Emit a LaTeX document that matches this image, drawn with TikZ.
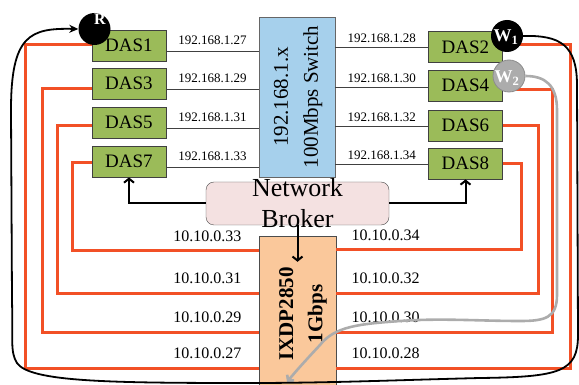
\documentclass[tikz,border=0pt]{standalone}
\usepackage{fontspec}
\setmainfont{Liberation Serif}
\usetikzlibrary{arrows.meta,calc}
\definecolor{dasgreen}{RGB}{155,187,89}
\definecolor{swblue}{RGB}{166,208,236}
\definecolor{brkpink}{RGB}{244,225,225}
\definecolor{ixpeach}{RGB}{250,200,155}
\definecolor{orng}{RGB}{242,80,38}
\definecolor{wgray}{RGB}{172,172,172}
\begin{document}
\begin{tikzpicture}[x=1pt,y=-1pt,
  dasbox/.style={draw=black!75, fill=dasgreen, line width=0.8pt, minimum width=74pt, minimum height=31pt, inner sep=0pt, font=\fontsize{19}{22}\selectfont},
  sline/.style={draw=black!75, line width=0.8pt},
  iptop/.style={inner sep=0pt, font=\fontsize{13}{15}\selectfont},
  oline/.style={draw=orng, line width=3pt},
  iplabL/.style={inner sep=0pt, anchor=south east, xshift=-16pt, yshift=8pt, font=\fontsize{16}{18}\selectfont},
  iplabR/.style={inner sep=0pt, anchor=south west, xshift=14pt, yshift=8pt, font=\fontsize{16}{18}\selectfont},
  arr/.style={draw=black, line width=2pt, -{Straight Barb[length=4pt,width=10pt]}},
  bcurve/.style={draw=black, line width=1.8pt, -{Stealth[length=9pt,width=8pt]}},
  gcurve/.style={draw=wgray, line width=2.6pt, -{Straight Barb[length=4pt,width=9pt]}},
  circ/.style={circle, minimum size=32pt, inner sep=0pt},
  wlab/.style={text=white, inner sep=0pt, font=\bfseries\fontsize{18}{18}\selectfont}
]
\useasboundingbox (0,0) rectangle (579,385);
\clip (0,0) rectangle (579,385);

% main boxes
\node[draw=black!60, fill=swblue, minimum width=76pt, minimum height=160pt, inner sep=0pt] (switch) at (297,97) {};
\node[rotate=90, align=center, inner sep=0pt, font=\fontsize{21}{30}\selectfont] (swlab) at (298,97) {192.168.1.x\\100Mbps Switch};

\node[draw=black!70, fill=ixpeach, minimum width=77pt, minimum height=160pt, inner sep=0pt] (ixdp) at (297.5,316) {};
\node[rotate=90, align=center, inner sep=0pt, font=\bfseries\fontsize{21}{29}\selectfont] (ixlab) at (303,314) {IXDP2850\\1Gbps};

\node[draw=black!70, fill=brkpink, rounded corners=8pt, minimum width=183pt, minimum height=43pt, inner sep=0pt] (broker) at (297.5,203.5) {};

% DAS boxes
\node[dasbox] (das1) at (129,45.5) {DAS1};
\node[dasbox] (das3) at (129,83.5) {DAS3};
\node[dasbox] (das5) at (129,122.5) {DAS5};
\node[dasbox] (das7) at (129,161.5) {DAS7};
\node[dasbox] (das2) at (465.5,47) {DAS2};
\node[dasbox] (das4) at (465.5,85.5) {DAS4};
\node[dasbox] (das6) at (465.5,125.5) {DAS6};
\node[dasbox] (das8) at (465.5,163.5) {DAS8};

% switch links
\draw[sline] (das1.east |- 0,51) -- (switch.west |- 0,51) node[iptop, midway, above=6pt] {192.168.1.27};
\draw[sline] (das3.east |- 0,89) -- (switch.west |- 0,89) node[iptop, midway, above=6pt] {192.168.1.29};
\draw[sline] (das5.east |- 0,128) -- (switch.west |- 0,128) node[iptop, midway, above=6pt] {192.168.1.31};
\draw[sline] (das7.east |- 0,167) -- (switch.west |- 0,167) node[iptop, midway, above=6pt] {192.168.1.33};
\draw[sline] (switch.east |- 0,47) -- (das2.west |- 0,47) node[iptop, midway, above=4pt] {192.168.1.28};
\draw[sline] (switch.east |- 0,87) -- (das4.west |- 0,87) node[iptop, midway, above=4pt] {192.168.1.30};
\draw[sline] (switch.east |- 0,126) -- (das6.west |- 0,126) node[iptop, midway, above=4pt] {192.168.1.32};
\draw[sline] (switch.east |- 0,164) -- (das8.west |- 0,164) node[iptop, midway, above=4pt] {192.168.1.34};

% 1Gbps links
\draw[oline] (das1.west |- 0,45) -| (25,368) -- (ixdp.west |- 0,368) node[iplabL] {10.10.0.27};
\draw[oline] (das3.west |- 0,89) -| (42,332) -- (ixdp.west |- 0,332) node[iplabL] {10.10.0.29};
\draw[oline] (das5.west |- 0,126) -| (57,293) -- (ixdp.west |- 0,293) node[iplabL] {10.10.0.31};
\draw[oline] (das7.west |- 0,163) -| (72,251) -- (ixdp.west |- 0,251) node[iplabL] {10.10.0.33};
\draw[oline] (das2.east |- 0,45) -| (570,368) -- (ixdp.east |- 0,368) node[iplabR] {10.10.0.28};
\draw[oline] (das4.east |- 0,90) -| (552,332) -- (ixdp.east |- 0,332) node[iplabR] {10.10.0.30};
\draw[oline] (das6.east |- 0,126) -| (538,293) -- (ixdp.east |- 0,293) node[iplabR] {10.10.0.32};
\draw[oline] (das8.east |- 0,164) -| (521,250) -- (ixdp.east |- 0,250) node[iplabR] {10.10.0.34};

% broker arrows
\draw[arr] (broker.west) -| (das7.south);
\draw[arr] (broker.east) -| (das8.south);
\draw[arr] (broker.south) -- ([yshift=-26pt]ixdp.north);
\node[align=center, inner sep=0pt, font=\fontsize{26}{31}\selectfont] (brklab) at (297.5,203.6) {Network\\Broker};

% circles
\node[circ, fill=black] (r) at (94.5,29) {};
\node[text=white, inner sep=0pt, font=\bfseries\fontsize{16}{16}\selectfont] (rlab) at (100,19) {R};
\node[circ, fill=black] (w1) at (507,36) {};
\node[wlab] (w1lab) at (506,37) {W\textsubscript{1}};
\node[circ, fill=wgray, draw=black!45, line width=0.8pt] (w2) at (509,76) {};
\node[wlab] (w2lab) at (507,78) {W\textsubscript{2}};

% curves
\draw[gcurve] (w2.east) .. controls (545,76) and (557,85) .. (557,110) -- (557,295) .. controls (557,318) and (545,321) .. (520,321) .. controls (480,321) and (440,318) .. (400,321) .. controls (360,324) and (335,326) .. (320,345) .. controls (306,360) and (296,371) .. (287,382);
\draw[bcurve] (w1.east) .. controls (560,35) and (577,45) .. (577,85) -- (578,335) .. controls (578,372) and (560,377) .. (480,378) .. controls (400,380) and (330,383) .. (250,383) .. controls (110,383) and (30,382) .. (17,363) .. controls (10,352) and (13,340) .. (12,300) -- (11,110) .. controls (11,35) and (30,28) .. (r.west);
\end{tikzpicture}
\end{document}
